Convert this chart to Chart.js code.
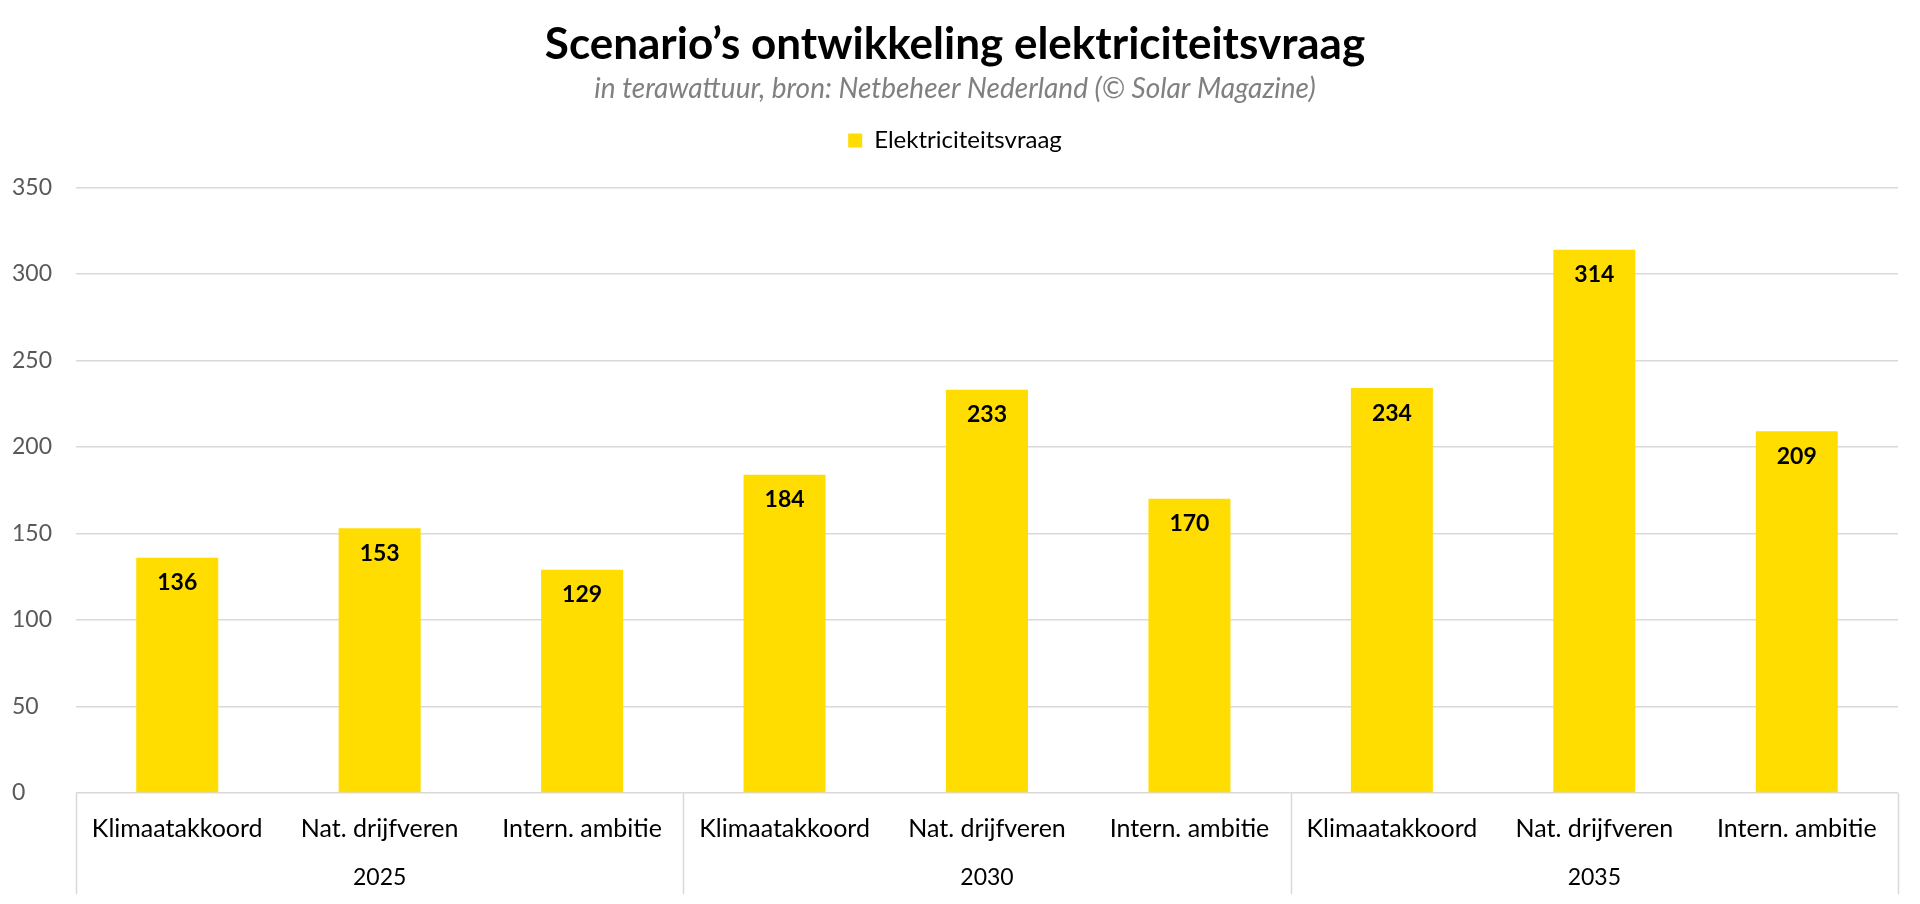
<!DOCTYPE html>
<html>
<head>
<meta charset="utf-8">
<script src="https://cdn.jsdelivr.net/npm/chart.js@4.4.1/dist/chart.umd.min.js"></script>
<style>
  html, body { margin: 0; padding: 0; background: #fff; }
  #wrap { width: 1920px; height: 904px; }
</style>
</head>
<body>
<div id="wrap"><canvas id="demandChart"></canvas></div>
<script>
    // Data
    const categories = ['Klimaatakkoord', 'Nat. drijfveren', 'Intern. ambitie',
                        'Klimaatakkoord', 'Nat. drijfveren', 'Intern. ambitie',
                        'Klimaatakkoord', 'Nat. drijfveren', 'Intern. ambitie'];
    const years = ['2025', '2030', '2035'];
    const demand = [136, 153, 129, 184, 233, 170, 234, 314, 209];
    const yMax = 350;
    const yStep = 50;

    const FONT = 'Lato, "Open Sans", sans-serif';
    const YELLOW = '#FFDD00';
    const GRID = '#d9d9d9';

    // Extra space between legend and plot
    const legendMargin = {
      id: 'legendMargin',
      beforeInit(chart) {
        const fit = chart.legend.fit;
        chart.legend.fit = function () {
          fit.bind(chart.legend)();
          this.height += 25;
        };
      }
    };

    // Value labels inside the top of each bar
    const valueLabels = {
      id: 'valueLabels',
      afterDatasetsDraw(chart) {
        const ctx = chart.ctx;
        const meta = chart.getDatasetMeta(0);
        ctx.save();
        ctx.font = 'bold 23px ' + FONT;
        ctx.fillStyle = '#000';
        ctx.textAlign = 'center';
        ctx.textBaseline = 'middle';
        meta.data.forEach((bar, i) => {
          ctx.fillText(demand[i], bar.x, bar.y + 25);
        });
        ctx.restore();
      }
    };

    // Group separators and year labels under the category axis
    const groupAxis = {
      id: 'groupAxis',
      afterDraw(chart) {
        const ctx = chart.ctx;
        const x = chart.scales.x;
        const area = chart.chartArea;
        const per = categories.length / years.length;
        const step = x.getPixelForValue(1) - x.getPixelForValue(0);
        ctx.save();
        ctx.strokeStyle = GRID;
        ctx.lineWidth = 1.5;
        for (let g = 0; g <= years.length; g++) {
          const px = Math.round(x.getPixelForValue(g * per) - step / 2) + 0.5;
          ctx.beginPath();
          ctx.moveTo(px, area.bottom);
          ctx.lineTo(px, 894);
          ctx.stroke();
        }
        ctx.font = '23px ' + FONT;
        ctx.fillStyle = '#000';
        ctx.textAlign = 'center';
        ctx.textBaseline = 'middle';
        years.forEach((yr, g) => {
          const cx = x.getPixelForValue(g * per + (per - 1) / 2);
          ctx.fillText(yr, cx, 878);
        });
        ctx.restore();
      }
    };

    function initDemandChart() {
      const ctx = document.getElementById('demandChart').getContext('2d');
      new Chart(ctx, {
        type: 'bar',
        data: {
          labels: categories,
          datasets: [{
            label: 'Elektriciteitsvraag',
            data: demand,
            backgroundColor: YELLOW,
            borderWidth: 0,
            categoryPercentage: 1,
            barPercentage: 0.405
          }]
        },
        options: {
          responsive: true,
          maintainAspectRatio: false,
          animation: false,
          devicePixelRatio: 1,
          layout: { padding: { left: 12, right: 22, top: 0, bottom: 0 } },
          plugins: {
            title: {
              display: true,
              text: 'Scenario’s ontwikkeling elektriciteitsvraag',
              color: '#000',
              font: { family: FONT, size: 44, weight: 'bold' },
              padding: { top: 18, bottom: 1 }
            },
            subtitle: {
              display: true,
              text: 'in terawattuur, bron: Netbeheer Nederland (© Solar Magazine)',
              color: '#808080',
              font: { family: FONT, size: 28, style: 'italic' },
              padding: { top: 0, bottom: 11 }
            },
            legend: {
              position: 'top',
              labels: {
                font: { family: FONT, size: 24 },
                color: '#000',
                boxWidth: 14,
                boxHeight: 14,
                padding: 12
              }
            },
            tooltip: { enabled: false }
          },
          scales: {
            x: {
              grid: { display: false, drawTicks: false },
              border: { display: false },
              ticks: {
                color: '#000',
                font: { family: FONT, size: 25 },
                padding: 21,
                maxRotation: 0,
                autoSkip: false
              },
              afterFit(scale) { scale.height = 111; }
            },
            y: {
              min: 0,
              max: yMax,
              grid: { color: GRID, lineWidth: 1.5, drawTicks: false },
              border: { display: false },
              ticks: {
                stepSize: yStep,
                color: '#595959',
                font: { family: FONT, size: 23 },
                crossAlign: 'far',
                padding: 0
              },
              afterFit(scale) { scale.width = 64; }
            }
          }
        },
        plugins: [legendMargin, valueLabels, groupAxis]
      });
    }

    window.addEventListener('load', () => {
      initDemandChart();
    });
</script>
</body>
</html>
